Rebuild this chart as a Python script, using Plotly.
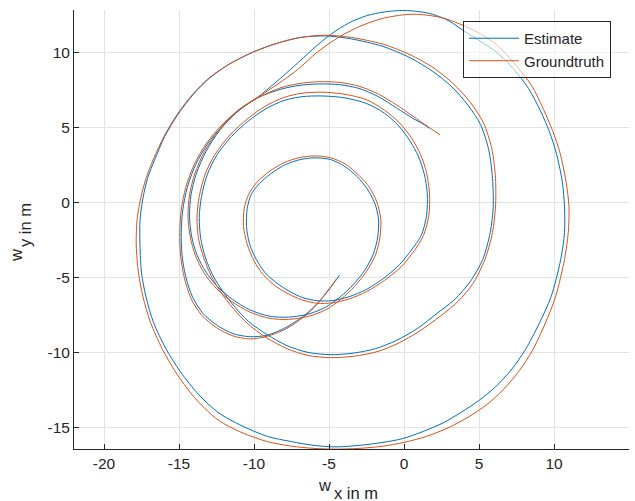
import plotly.graph_objects as go

# Groundtruth trajectory (world frame, metres)
gt_x = [-4.5, -5.1, -5.8, -6.7, -7.9, -9.2, -10.3, -11.4, -12.5, -13.5, -14.2, -14.65, -14.9, -14.95, -14.85, -14.55, -14.0, -13.2, -12.2, -11.0, -9.7,
        -8.4, -7.1, -5.8, -4.3, -2.8, -1.3, 0.6, 2.6, 4.8, 6.3, 7.5, 8.5, 9.3, 9.9, 10.4, 10.8, 11.0, 10.95, 10.7, 10.1, 9.4, 8.6, 7.7, 6.6, 5.5, 4.3, 3.0, 1.5, 0.0, -1.4, -3.0, -4.6, -6.0, -7.5, -9.1, -10.8, -12.4, -13.8, -15.1, -16.1, -16.9, -17.4, -17.7, -17.85, -17.8, -17.55, -17.2, -16.7, -16.0, -15.1, -14.1, -13.0, -11.6, -10.0, -8.5, -6.9, -5.2, -3.5, -1.4, 0.4, 2.0, 3.3, 4.4, 5.3, 5.85, 6.1, 6.1, 5.9, 5.4, 4.6, 3.6, 2.4, 1.0, -0.4, -1.8, -3.3, -4.9, -6.4, -7.8, -9.2, -10.4, -11.4, -12.2, -12.85, -13.35, -13.7, -13.8, -13.65, -13.25, -12.6, -11.6, -10.4, -9.2, -8.0, -6.8, -5.5, -4.0, -2.5, -1.3, -0.3, 0.5, 1.1, 1.5, 1.7, 1.65, 1.3, 0.7, -0.2, -1.3, -2.5, -3.7, -4.8, -5.8, -6.8, -7.7, -8.6, -9.4, -10.0, -10.45, -10.7, -10.65, -10.35, -9.8, -9.0, -8.0, -7.0, -6.0, -4.9, -3.9, -3.0, -2.3, -1.8, -1.55, -1.6, -1.9, -2.5, -3.3, -4.2, -5.2, -6.4, -7.7, -9.0, -10.3, -11.5, -12.5, -13.3, -13.9, -14.25, -14.4, -14.3, -13.95, -13.3, -12.3, -11.1, -9.7, -8.2, -7.0, -5.7, -4.3, -3.0, -1.7, -0.5, 0.6, 1.6, 2.4]
gt_y = [-5.1, -5.9, -6.8, -7.65, -8.45, -8.95, -9.1, -8.9, -8.35, -7.5, -6.4, -5.0, -3.5, -2.0, -0.5, 1.0, 2.5, 3.9, 5.1, 6.2, 7.05,
        7.9, 8.85, 10.0, 11.05, 11.8, 12.3, 12.55, 12.3, 11.4, 10.4, 9.1, 7.8, 6.2, 4.8, 3.3, 1.4, -0.3, -2.0, -3.8, -6.3, -8.1, -9.8, -11.2, -12.5, -13.5, -14.3, -15.0, -15.6, -16.0, -16.25, -16.4, -16.45, -16.4, -16.25, -15.95, -15.35, -14.5, -13.2, -11.5, -9.8, -8.0, -6.3, -4.7, -2.9, -1.2, 0.3, 1.6, 2.9, 4.4, 5.9, 7.2, 8.3, 9.25, 10.05, 10.6, 11.0, 11.15, 11.0, 10.55, 9.85, 8.95, 7.9, 6.7, 5.3, 3.6, 1.6, -0.3, -2.0, -3.8, -5.4, -6.6, -7.6, -8.6, -9.4, -9.95, -10.25, -10.35, -10.2, -9.75, -9.0, -8.1, -7.05, -6.0, -4.9, -3.7, -2.4, -1.0, 0.4, 1.9, 3.2, 4.5, 5.6, 6.45, 7.0, 7.28, 7.35, 7.22, 6.85, 6.15, 5.3, 4.3, 3.2, 2.0, 0.6, -0.9, -2.2, -3.2, -4.3, -5.2, -5.95, -6.45, -6.7, -6.72, -6.5, -6.1, -5.55, -4.8, -3.9, -2.8, -1.6, -0.4, 0.55, 1.35, 2.05, 2.65, 2.98, 3.1, 2.98, 2.55, 1.8, 1.0, 0.0, -1.1, -2.3, -3.5, -4.6, -5.6, -6.45, -7.15, -7.6, -7.8, -7.72, -7.3, -6.6, -5.75, -4.75, -3.55, -2.3, -0.9, 0.5, 1.9, 3.4, 4.85, 6.1, 7.0, 7.65, 7.92, 8.05, 8.0, 7.75, 7.22, 6.5, 5.75, 5.05, 4.5]

# Estimated trajectory
est_x = [-4.3, -4.95, -5.7, -6.6, -7.8, -9.1, -10.3, -11.4, -12.45, -13.4, -14.1, -14.55, -14.8, -14.85, -14.75, -14.45, -13.9, -13.1, -12.1, -10.95, -9.7,
         -8.5, -7.3, -6.1, -4.9, -3.7, -2.5, -1.3, -0.1, 1.0, 1.9, 3.0, 3.9, 5.0, 6.2, 7.3, 8.3, 9.1, 9.7, 10.15, 10.55, 10.7, 10.7, 10.45, 9.8, 9.0, 8.1, 7.2, 6.1, 5.0, 3.8, 2.6, 1.2, -0.1, -1.4, -3.0, -4.6, -6.0, -7.5, -9.1, -10.8, -12.4, -13.7, -14.9, -15.9, -16.7, -17.2, -17.5, -17.6, -17.6, -17.4, -17.1, -16.6, -15.95, -15.05, -14.05, -12.95, -11.6, -10.0, -8.5, -6.9, -5.2, -3.5, -1.4, 0.4, 1.9, 3.2, 4.25, 5.1, 5.65, 5.9, 5.95, 5.75, 5.25, 4.4, 3.4, 2.2, 0.9, -0.5, -1.9, -3.4, -4.9, -6.4, -7.8, -9.15, -10.35, -11.3, -12.1, -12.75, -13.25, -13.55, -13.65, -13.5, -13.1, -12.45, -11.5, -10.35, -9.2, -8.0, -6.8, -5.5, -4.0, -2.5, -1.3, -0.35, 0.4, 0.95, 1.35, 1.55, 1.5, 1.15, 0.55, -0.3, -1.35, -2.5, -3.7, -4.8, -5.8, -6.75, -7.6, -8.45, -9.25, -9.85, -10.3, -10.5, -10.45, -10.2, -9.65, -8.9, -7.95, -6.95, -6.0, -4.9, -3.95, -3.1, -2.45, -1.95, -1.7, -1.75, -2.05, -2.6, -3.4, -4.25, -5.25, -6.4, -7.7, -9.0, -10.3, -11.45, -12.4, -13.2, -13.8, -14.15, -14.3, -14.2, -13.85, -13.2, -12.25, -11.1, -9.7, -8.2, -7.0, -5.7, -4.3, -3.0, -1.7, -0.5, 0.6, 1.4, 1.65]
est_y = [-4.85, -5.75, -6.65, -7.5, -8.3, -8.85, -8.95, -8.75, -8.2, -7.4, -6.3, -4.95, -3.5, -2.0, -0.5, 1.0, 2.5, 3.9, 5.1, 6.2, 7.05,
         8.05, 9.1, 10.2, 11.2, 11.95, 12.45, 12.7, 12.8, 12.72, 12.55, 12.1, 11.5, 10.8, 10.0, 8.9, 7.6, 6.1, 4.7, 3.3, 1.4, -0.3, -2.0, -3.8, -6.3, -8.1, -9.8, -11.1, -12.3, -13.2, -14.0, -14.7, -15.3, -15.75, -16.0, -16.2, -16.3, -16.2, -15.95, -15.6, -14.9, -14.0, -12.8, -11.3, -9.7, -8.0, -6.3, -4.7, -2.9, -1.2, 0.3, 1.6, 2.9, 4.4, 5.9, 7.2, 8.3, 9.25, 10.05, 10.6, 11.0, 11.1, 10.9, 10.4, 9.65, 8.75, 7.7, 6.5, 5.2, 3.5, 1.6, -0.3, -2.0, -3.8, -5.3, -6.45, -7.4, -8.4, -9.2, -9.75, -10.05, -10.15, -10.0, -9.55, -8.8, -7.95, -6.95, -5.9, -4.85, -3.65, -2.4, -1.0, 0.4, 1.9, 3.2, 4.4, 5.45, 6.25, 6.8, 7.05, 7.1, 6.98, 6.6, 5.95, 5.1, 4.1, 3.1, 1.9, 0.6, -0.9, -2.2, -3.1, -4.15, -5.05, -5.8, -6.3, -6.55, -6.55, -6.35, -5.95, -5.4, -4.7, -3.8, -2.75, -1.6, -0.4, 0.5, 1.25, 1.9, 2.5, 2.85, 2.97, 2.86, 2.4, 1.7, 0.9, -0.05, -1.1, -2.3, -3.45, -4.5, -5.5, -6.3, -7.0, -7.45, -7.65, -7.58, -7.15, -6.45, -5.65, -4.65, -3.5, -2.3, -0.9, 0.5, 1.9, 3.4, 4.85, 6.05, 7.0, 7.55, 7.8, 7.9, 7.85, 7.6, 7.05, 6.3, 5.6, 5.15, 4.95]

x_ticks = [-20, -15, -10, -5, 0, 5, 10, 15]
x_tick_labels = ["-20", "-15", "-10", "-5", "0", "5", "10", "15"]
y_ticks = [-15, -10, -5, 0, 5, 10]
y_tick_labels = ["-15", "-10", "-5", "0", "5", "10"]

# Axis labels: symbol and its (lowered) subscript part
x_label = ("w", "x in m")
y_label = ("w", "y in m")

FONT = "Liberation Sans, Arial, Helvetica, sans-serif"
INK = "#262626"

# Plot-area geometry in pixels
W, H = 635, 501
ML, MR, MT, MB = 74, 6, 10, 52
PW, PH = W - ML - MR, H - MT - MB


def px_to_paper(px, py):
    return (px - ML) / PW, (H - MB - py) / PH


fig = go.Figure()
fig.add_trace(go.Scatter(x=est_x, y=est_y, mode="lines", name="Estimate",
                         line=dict(color="#0072BD", width=1, shape="spline", smoothing=0.8)))
fig.add_trace(go.Scatter(x=gt_x, y=gt_y, mode="lines", name="Groundtruth",
                         line=dict(color="#D95319", width=1, shape="spline", smoothing=0.8)))

axis_common = dict(
    showline=True, linecolor=INK, linewidth=1, mirror=False,
    ticks="inside", ticklen=5, tickcolor=INK, tickwidth=1,
    showgrid=True, gridcolor="#e3e3e3", gridwidth=1,
    zeroline=False, tickfont=dict(family=FONT, size=15.5, color=INK),
)

annotations = []
# x-axis label: "w" then a lowered "x in m"
for text, (cx, cy) in zip(x_label, [(324, 485), (356, 493)]):
    ax, ay = px_to_paper(cx, cy)
    annotations.append(dict(text=text, x=ax, y=ay, xref="paper", yref="paper",
                            xanchor="center", yanchor="middle", showarrow=False,
                            font=dict(family=FONT, size=16.5, color=INK)))
# y-axis label, rotated: "w" then a shifted "y in m"
for text, (cx, cy) in zip(y_label, [(16, 256), (25, 225)]):
    ax, ay = px_to_paper(cx, cy)
    annotations.append(dict(text=text, x=ax, y=ay, xref="paper", yref="paper",
                            xanchor="center", yanchor="middle", showarrow=False,
                            textangle=-90,
                            font=dict(family=FONT, size=16.5, color=INK)))

fig.update_layout(
    width=W, height=H,
    margin=dict(l=ML, r=MR, t=MT, b=MB),
    paper_bgcolor="white", plot_bgcolor="white",
    font=dict(family=FONT, color=INK, size=15.5),
    xaxis=dict(range=[-22, 15], tickvals=x_ticks, ticktext=x_tick_labels, **axis_common),
    yaxis=dict(range=[-16.44, 12.83], tickvals=y_ticks, ticktext=y_tick_labels, **axis_common),
    legend=dict(x=0.701, y=0.975, xanchor="left", yanchor="top",
                bgcolor="rgba(255,255,255,0.6)", bordercolor=INK, borderwidth=1,
                font=dict(family=FONT, size=15, color=INK),
                itemwidth=50, tracegroupgap=0),
    annotations=annotations,
    showlegend=True,
)

fig.write_html("out.html")
